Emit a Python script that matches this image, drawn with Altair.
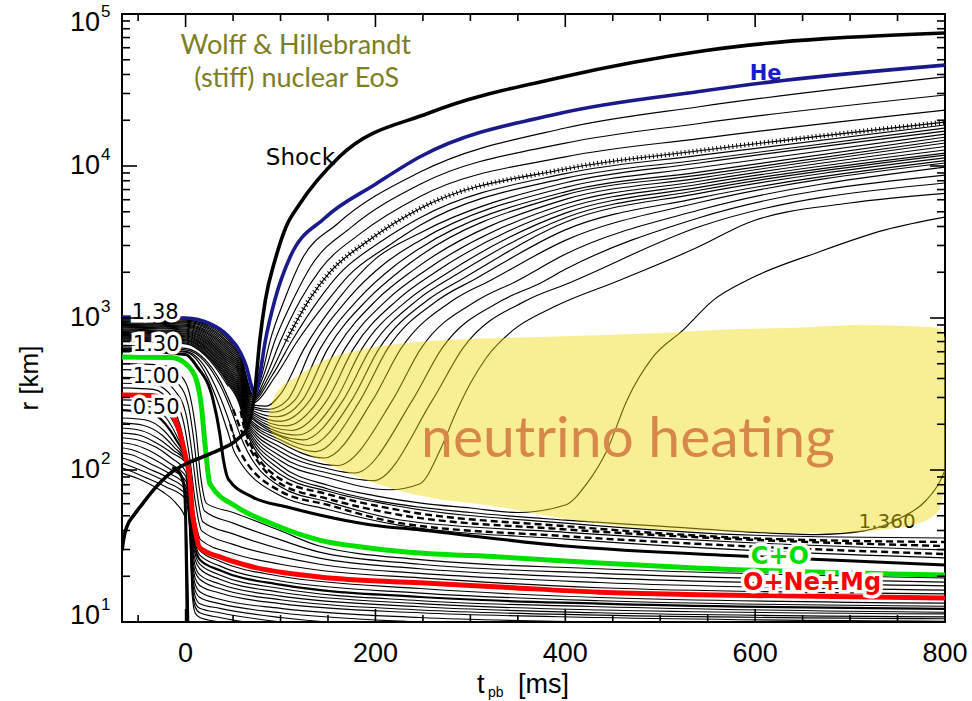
import altair as alt
import pandas as pd

W, H = 823, 608
X_DOMAIN = [-67, 800]
Y_DOMAIN = [10, 100000]

# ---------------- mass-shell trajectories: (t_pb [ms], r [km]) ----------------
SHOCK = [(-67, 29.5), (-65, 36), (-62, 42.2), (-55, 50), (-48, 57.1), (-34, 73.8), (-16, 95.5), (2, 111), (18, 122), (36, 136),
         (55, 160), (65, 190), (73, 330), (78, 700), (84, 1310), (95, 2500), (106, 4000), (120, 5600),
         (162, 11500), (257, 22400), (397, 38500), (548, 57500), (800, 75000)]

HE = [(-67, 1016), (0, 1000), (25, 923), (45, 759), (58, 589), (64, 479), (70, 347), (73, 316), (78, 417),
      (84, 708), (94, 1312), (110, 2510), (147, 4570), (200, 7590), (247, 11500), (397, 22400),
      (541, 30900), (613, 35500), (800, 46100)]

UP_LINES = [
    [(-67, 1000), (0, 982), (25, 900), (45, 733), (58, 566), (71.6, 309), (80, 417), (89, 708), (104, 1312), (122, 2400), (160, 4170), (247, 9120), (400, 17780), (541, 24550), (800, 38550)],
    [(-67, 986), (0, 968), (25, 881), (45, 713), (58, 547), (71.3, 302), (82, 417), (94, 708), (113, 1312), (132, 2190), (175, 3980), (247, 7590), (400, 14130), (541, 19050), (800, 29300)],
    [(-67, 973), (0, 953), (25, 863), (45, 692), (58, 530), (70.9, 295), (85, 417), (100, 708), (121, 1312), (142, 2090), (185, 3630), (247, 6310), (400, 11480), (541, 15140), (800, 23330)],
    [(-67, 959), (0, 940), (25, 845), (45, 673), (58, 513), (70.6, 288), (88, 417), (106, 708), (130, 1312), (152, 2000), (195, 3310), (247, 5250), (400, 9550), (541, 12590), (800, 19450)],
    [(-67, 946), (0, 927), (25, 828), (45, 653), (58, 495), (70.2, 282), (91, 417), (112, 708), (140, 1312), (162, 1950), (205, 3160), (247, 4570), (400, 8910), (541, 11750), (800, 18620)],
    [(-67, 933), (0, 912), (25, 809), (45, 634), (58, 479), (69.9, 275), (95, 417), (118, 708), (150, 1312), (172, 1910), (215, 3020), (247, 4070), (400, 8320), (541, 10960), (800, 17780)],
]
DOTTED_LINE = UP_LINES[3]

FAN_LINES = [
    [(-67, 920), (0, 897), (25, 792), (45, 617), (58, 463), (69.5, 269), (85, 263), (100, 316), (125, 631), (160, 1312), (200, 2450), (247, 3630), (400, 7760), (541, 10470), (800, 16980)],
    [(-67, 908), (0, 885), (25, 776), (45, 598), (58, 448), (69.2, 263), (88, 251), (107, 288), (133, 631), (170, 1312), (210, 2290), (247, 3240), (400, 7240), (541, 9770), (800, 16220)],
    [(-67, 895), (0, 873), (25, 760), (45, 582), (58, 434), (68.9, 257), (92, 240), (115, 288), (142, 631), (181, 1312), (220, 2200), (247, 2880), (400, 6760), (541, 9120), (800, 15490)],
    [(-67, 883), (0, 859), (25, 745), (45, 565), (58, 419), (68.5, 251), (96, 224), (123, 288), (150, 631), (191, 1312), (230, 2140), (400, 6460), (541, 8710), (800, 14790)],
    [(-67, 871), (0, 845), (25, 729), (45, 548), (58, 406), (68.2, 245), (100, 209), (131, 288), (159, 631), (201, 1312), (241, 2090), (400, 6030), (541, 8320), (800, 14160)],
    [(-67, 859), (0, 834), (25, 713), (45, 533), (58, 392), (67.8, 240), (106, 195), (140, 288), (168, 631), (212, 1312), (252, 2040), (400, 5620), (541, 7940), (800, 13430)],
    [(-67, 847), (0, 820), (25, 698), (45, 518), (58, 379), (67.5, 234), (112, 182), (149, 288), (177, 631), (223, 1312), (263, 2000), (400, 5250), (541, 7590), (800, 12740)],
    [(-67, 836), (0, 809), (25, 684), (45, 502), (58, 366), (67.1, 229), (118, 170), (158, 288), (186, 631), (234, 1312), (274, 1950), (400, 4900), (541, 7240), (800, 12160)],
    [(-67, 824), (0, 796), (25, 670), (45, 489), (58, 355), (66.8, 226), (124, 158), (166, 288), (195, 631), (244, 1312), (284, 1910), (400, 4570), (541, 6920), (800, 11800)],
    [(-67, 813), (0, 785), (25, 656), (45, 474), (58, 343), (66.4, 221), (100, 166), (130, 145), (175, 288), (204, 631), (255, 1312), (295, 1860), (400, 4270), (541, 6610), (800, 11300)],
    [(-67, 802), (0, 773), (25, 643), (45, 461), (58, 332), (66.1, 217), (100, 158), (137, 132), (184, 288), (213, 631), (266, 1312), (306, 1820), (400, 3800), (541, 6170), (800, 10840)],
    [(-67, 791), (0, 762), (25, 628), (45, 448), (58, 321), (65.8, 212), (100, 151), (146, 120), (197, 288), (227, 631), (282, 1312), (322, 1780), (400, 3240), (541, 5750), (800, 10470)],
    [(-67, 780), (0, 752), (25, 615), (45, 434), (58, 310), (65.4, 207), (100, 141), (160, 107), (218, 288), (248, 631), (308, 1312), (348, 1740), (400, 2630), (541, 5130), (800, 9840)],
    [(-67, 769), (0, 740), (25, 603), (45, 423), (58, 300), (65.1, 203), (100, 132), (150, 102), (178, 95.5), (239, 288), (270, 631), (334, 1312), (374, 1700), (400, 2090), (541, 4570), (800, 8710)],
    [(-67, 759), (0, 728), (25, 590), (45, 410), (58, 290), (64.7, 200), (100, 123), (150, 95.5), (198, 85.1), (260, 288), (292, 631), (360, 1312), (400, 1660), (541, 3980), (800, 7730)],
    [(-67, 748), (0, 718), (25, 578), (45, 398), (58, 281), (64.4, 195), (100, 115), (150, 89), (215, 74.1), (247, 81.3), (268, 135), (285, 240), (300, 372), (317, 550), (345, 832), (387, 1175), (458, 1780), (541, 2950), (592, 4220), (700, 5710), (800, 6610)],
    [(-67, 738), (0, 708), (25, 566), (45, 387), (58, 272), (64, 191), (100, 107), (150, 79.4), (200, 67.6), (250, 60.3), (300, 56.2), (350, 52.5), (400, 58.9), (423, 82), (444, 135), (465, 288), (492, 550), (524, 832), (556, 1312), (592, 1780), (665, 2690), (737, 3800), (800, 4610)],
    [(-67, 728), (0, 697), (25, 553), (45, 376), (58, 262), (63.7, 186), (100, 100), (150, 75), (200, 63.1), (300, 52.5), (400, 46.8), (500, 42.7), (600, 38.9), (664, 37.6), (715, 39.8), (755, 49), (780, 63), (795, 85), (800, 100)],
]

ACC_LINES = [
    [(-67, 718), (0, 685), (25, 542), (45, 366), (58, 254), (63.3, 182), (100, 93.3), (150, 72.4), (226, 57.5), (400, 44.7), (600, 37.2), (800, 35.7)],
    [(-67, 646), (0, 617), (20, 519), (37, 355), (50, 229), (58, 166), (100, 77.6), (150, 61.7), (226, 46.9), (400, 38.9), (600, 33.1), (800, 29.8)],
    [(-67, 624), (0, 596), (16, 490), (32, 302), (44, 182), (52, 129), (100, 67.6), (150, 55), (226, 43.2), (400, 35.1), (600, 29.5), (800, 26.4)],
]
# these shells are drawn dashed once they settle (t >= DASH_FROM)
ACC_DASHED = [
    [(-67, 708), (0, 676), (25, 531), (45, 355), (58, 245), (63, 178), (100, 87.1), (150, 69.2), (226, 54.3), (400, 42.7), (600, 35.5), (800, 33.6)],
    [(-67, 661), (0, 631), (20, 537), (37, 380), (50, 251), (60, 174), (100, 81.3), (150, 64.6), (226, 50.6), (400, 40.7), (600, 34.7), (800, 31.6)],
    [(-67, 631), (0, 603), (18, 501), (35, 316), (47, 200), (55, 141), (100, 72.4), (150, 58.9), (226, 44.7), (400, 36.7), (600, 31.3), (800, 28.0)],
]
DASH_FROM = 55
ACC_THICK = [(-67, 617), (0, 575), (12, 479), (29, 288), (36, 174), (40, 115), (45, 87.1), (71, 66.1), (107, 57.1),
             (141, 50.6), (194, 43.7), (247, 40.3), (400, 31.6), (600, 26.9), (800, 23.7)]

GREEN = [(-67, 553), (-15, 550), (0, 501), (11, 398), (17, 251), (20, 158), (25.7, 80.9), (54, 57.1), (89, 44.8),
         (141, 34.6), (194, 30.7), (247, 28.4), (331, 26.8), (436, 24.4), (542, 22.6), (800, 20.4)]
RED = [(-67, 311), (-35, 309), (-17, 248), (-8, 192), (0, 122), (4.5, 85.9), (7, 53), (9.5, 42.2), (15, 30.7),
       (36, 26.8), (71, 23), (141, 19.8), (247, 18.1), (331, 17), (436, 15.7), (542, 15.1), (800, 14.4)]

SHELL_LINES = [
    [(-67, 501), (-25, 490), (-5, 417), (5, 302), (11, 178), (16, 89.1), (22, 60.3), (50, 52.5), (100, 39.8), (141, 31.6), (247, 25.7), (436, 22.4), (800, 19.5)],
    [(-67, 457), (-28, 447), (-8, 372), (3, 263), (9, 151), (14, 79.4), (20, 53.7), (50, 44.7), (100, 34.7), (141, 28.8), (247, 24), (436, 20.9), (800, 18.3)],
    [(-67, 407), (-30, 398), (-11, 331), (1, 224), (7, 126), (12, 70.8), (18, 45.7), (50, 38), (100, 30.2), (141, 26.3), (247, 22.4), (436, 19.5), (800, 17.3)],
    [(-67, 372), (-32, 363), (-13, 295), (-1, 191), (5, 112), (10, 63.1), (17, 39.8), (50, 32.4), (100, 26.9), (141, 24), (247, 20.9), (436, 18.2), (800, 16.2)],
    [(-67, 347), (-34, 339), (-15, 269), (-4, 178), (3, 100), (8, 56.2), (16, 34.7), (50, 28.2), (100, 24), (141, 21.9), (247, 19.5), (436, 16.8), (800, 15.3)],
    [(-67, 289), (-35, 282), (-17, 229), (-8, 178), (0, 120), (4, 83.2), (7, 50.1), (10, 38), (15, 29.5), (36, 25.1), (100, 20), (247, 16.6), (436, 14.5), (800, 13.3)],
    [(-67, 268), (-38, 260), (-19, 214), (-9, 166), (0, 119), (4, 79.4), (7, 45.7), (10, 33.9), (15, 27.5), (36, 23.4), (100, 18.6), (247, 15.5), (436, 13.8), (800, 12.7)],
    [(-67, 220), (-43, 214), (-23, 182), (-11, 148), (0, 116), (4, 72.4), (7, 38), (10, 28.2), (15, 24), (36, 20.4), (100, 16.6), (247, 13.8), (436, 12.6), (800, 11.6)],
    [(-67, 204), (-45, 197), (-25, 170), (-12, 141), (0, 115), (4, 69.2), (7, 34.7), (10, 25.7), (15, 22.4), (36, 19.1), (100, 15.7), (247, 13.2), (436, 12), (800, 11.3)],
    [(-67, 189), (-47, 182), (-27, 158), (-13, 135), (0, 114), (4, 66.1), (7, 31.6), (10, 23.4), (15, 20.4), (36, 17.8), (100, 14.8), (247, 12.6), (436, 11.5), (800, 10.8)],
    [(-67, 175), (-49, 170), (-29, 148), (-14, 129), (0, 112), (4, 63.1), (7, 28.8), (10, 21.4), (15, 19.1), (36, 16.6), (100, 14), (247, 12), (436, 11.1), (800, 10.5)],
    [(-67, 163), (-51, 158), (-31, 141), (-15, 120), (0, 97.7), (4, 60.3), (7, 26.3), (10, 19.5), (15, 17.4), (36, 15.5), (100, 13.2), (247, 11.5), (436, 10.7), (800, 10.1)],
    [(-67, 151), (-53, 146), (-33, 129), (-16, 110), (0, 91.2), (4, 57.5), (7, 24), (10, 17.8), (15, 15.8), (36, 14.1), (100, 12.3), (247, 10.7), (436, 10), (800, 9.44)],
    [(-67, 140), (-55, 135), (-35, 119), (-17, 102), (0, 85.1), (4, 55), (7, 21.9), (10, 16.2), (15, 14.5), (36, 13.2), (100, 11.5), (247, 10), (436, 9.33), (800, 8.81)],
    [(-67, 129), (-57, 126), (-37, 110), (-18, 95.5), (0, 79.4), (4, 51.3), (7, 20), (10, 14.8), (15, 13.2), (36, 12.3), (100, 10.7), (247, 9.33), (436, 8.71), (800, 8.22)],
    [(-67, 120), (-59, 116), (-39, 102), (-19, 89.1), (0, 74.1), (4, 47.9), (7, 18.2), (10, 13.5), (15, 12.3), (36, 11.5), (100, 10), (247, 8.71), (436, 8.13), (800, 7.67)],
    [(-67, 111), (-60, 107), (-40, 95.5), (-20, 83.2), (0, 69.2), (4, 44.7), (7, 16.6), (10, 12.6), (15, 11.5), (36, 10.7), (100, 9.33), (247, 8.13)],
    [(-67, 103), (-61, 100), (-42, 89.1), (-21, 77.6), (0, 64.6), (4, 41.7), (7, 15.1), (10, 11.5), (15, 10.7), (36, 10), (100, 8.71)],
    [(-67, 95.5), (-45, 85.1), (-25, 72.4), (-10, 60.3), (0, 47.9), (2, 25.1), (4, 6.3)],
]
PNS_MID = [
    [(-67, 248), (-40, 240), (-21, 200), (-10, 158), (0, 117), (4, 75.9), (7, 41.7), (10, 30.9), (15, 25.7), (36, 21.9), (100, 17.6), (247, 14.6), (436, 13.2), (800, 12.2)],
]
CORE_THICK = [(-14, 104), (-6, 95), (-1.5, 78), (0, 50), (1, 20), (2, 6.3)]

# ---------------- neutrino-heating region (outline) ----------------
YELLOW_T = [86, 94, 120, 147, 184, 232, 331, 407, 507, 557, 657, 706, 732, 773, 794, 800]
YELLOW_TOP = [205, 311, 422, 530, 616, 685, 738, 762, 800, 834, 870, 900, 895, 880, 860, 740]
YELLOW_BOT = [205, 165, 135, 112, 89, 71, 57, 47, 40.3, 39.5, 38.5, 39, 40.3, 44.8, 54.6, 90]

# ---------------- ticks ----------------
X_MAJOR = [0, 200, 400, 600, 800]
X_MAJOR_LABELS = ["0", "200", "400", "600", "800"]
X_MINOR = [-50, 50, 100, 150, 250, 300, 350, 450, 500, 550, 650, 700, 750]
Y_MAJOR = [10, 100, 1000, 10000, 100000]
Y_EXPONENTS = ["1", "2", "3", "4", "5"]
Y_LABEL_SHIFT = [-6, 0, 0, 0, 9]
Y_MINOR = [m * d for d in [10, 100, 1000, 10000] for m in range(2, 10)]

# ---------------- annotations (t, r, text) ----------------
OLIVE_TEXT = [(116, 61700, "Wolff & Hillebrandt"), (117, 37300, "(stiff) nuclear EoS")]
SHOCK_TEXT = [(121, 11300, "Shock")]
HE_TEXT = [(611, 40500, "He")]
HEATING_TEXT = [(466, 157, "neutrino heating")]
MASS_CUT_TEXT = [(739, 45.5, "1.360")]
CO_TEXT = [(626, 26.8, "C+O")]
ONEMG_TEXT = [(660, 18.1, "O+Ne+Mg")]
MASS_TEXT = [(-32, 1080, "1.38"), (-31, 664, "1.30"), (-31, 409, "1.00"), (-31, 256, "0.50")]

# ---------------- build tables ----------------
dash_pre = [[p for p in pts if p[0] <= DASH_FROM] for pts in ACC_DASHED]
dash_post = [[p for p in pts if p[0] >= DASH_FROM - 8] for pts in ACC_DASHED]

groups = [
    ("thin", UP_LINES + FAN_LINES + ACC_LINES + SHELL_LINES + dash_pre),
    ("dash", dash_post),
    ("mid", PNS_MID),
    ("thick", [ACC_THICK, CORE_THICK]),
    ("dots", [[p for p in DOTTED_LINE if p[0] >= 100]]),
    ("green", [GREEN]),
    ("red", [RED]),
    ("he", [HE]),
    ("shock", [SHOCK]),
]
rows = []
for style, lines in groups:
    for k, pts in enumerate(lines):
        for i, (t, r) in enumerate(pts):
            rows.append({"line": f"{style}{k}", "style": style, "i": i, "t": t, "r": r})
lines_df = pd.DataFrame(rows)

xs = alt.Scale(domain=X_DOMAIN, nice=False, zero=False)
ys = alt.Scale(type="log", domain=Y_DOMAIN, nice=False)


def line_layer(style, color, width, dash=None):
    kw = dict(clip=True, interpolate="monotone", color=color, strokeWidth=width, strokeJoin="round")
    if dash:
        kw["strokeDash"] = dash
    return alt.Chart(lines_df).transform_filter(alt.datum.style == style).mark_line(**kw).encode(
        x=alt.X("t:Q", scale=xs, axis=None),
        y=alt.Y("r:Q", scale=ys, axis=None),
        detail="line:N",
        order="i:Q",
    )


def text_df(items):
    return pd.DataFrame([{"t": t, "r": r, "txt": s} for t, r, s in items])


def text_layer(items, halo=False, **kw):
    base = alt.Chart(text_df(items)).encode(
        x=alt.X("t:Q", scale=xs, axis=None), y=alt.Y("r:Q", scale=ys, axis=None), text="txt:N")
    out = []
    if halo:
        hk = dict(kw)
        hk.update(color="white", stroke="white", strokeWidth=7)
        out.append(base.mark_text(**hk))
    out.append(base.mark_text(**kw))
    return out


layers = [
    line_layer("thin", "black", 1.15),
    line_layer("dash", "black", 2.4, [7, 4]),
    line_layer("mid", "black", 2.2),
    line_layer("thick", "black", 3.0),
    line_layer("dots", "black", 5, [1, 3]),
    line_layer("green", "#00e000", 5),
    line_layer("red", "#ff0000", 5),
    line_layer("he", "#1a1a8c", 3.6),
    line_layer("shock", "black", 3.6),
]
layers += text_layer(MASS_CUT_TEXT, font="DejaVu Sans", fontSize=20, color="black")

yellow_df = pd.DataFrame({"t": YELLOW_T, "top": YELLOW_TOP, "bot": YELLOW_BOT})
layers.append(
    alt.Chart(yellow_df).mark_area(clip=True, interpolate="monotone", color="#f0dc14", opacity=0.45).encode(
        x=alt.X("t:Q", scale=xs, axis=None), y=alt.Y("top:Q", scale=ys, axis=None), y2="bot:Q")
)

layers += text_layer(HEATING_TEXT, font="Lato", fontSize=57, color="#d8874a")
layers += text_layer(OLIVE_TEXT, font="Lato", fontSize=27, color="#7d7d22")
layers += text_layer(SHOCK_TEXT, font="DejaVu Sans", fontSize=23, color="black")
layers += text_layer(HE_TEXT, font="DejaVu Sans", fontSize=21, fontWeight="bold", color="#1a1acc")
layers += text_layer(CO_TEXT, halo=True, font="DejaVu Sans", fontSize=24, fontWeight="bold", color="#00e000")
layers += text_layer(ONEMG_TEXT, halo=True, font="DejaVu Sans", fontSize=24, fontWeight="bold", color="#ff0000")
layers += text_layer(MASS_TEXT, halo=True, font="DejaVu Sans", fontSize=21, color="black")

# tick marks (inward, all four sides)
xmaj = pd.DataFrame({"v": X_MAJOR, "lab": X_MAJOR_LABELS})
xmin = pd.DataFrame({"v": X_MINOR})
ymaj = pd.DataFrame({"v": Y_MAJOR, "e": Y_EXPONENTS, "s": Y_LABEL_SHIFT})
ymin = pd.DataFrame({"v": Y_MINOR})

for df_, ln in [(xmaj, 13), (xmin, 7)]:
    for y0, y1 in [(H, H - ln), (0, ln)]:
        layers.append(alt.Chart(df_).mark_rule(color="black", strokeWidth=1.6).encode(
            x=alt.X("v:Q", scale=xs, axis=None), y=alt.value(y0), y2=alt.value(y1)))
for df_, ln in [(ymaj, 15), (ymin, 8)]:
    for x0, x1 in [(0, ln), (W, W - ln)]:
        layers.append(alt.Chart(df_).mark_rule(color="black", strokeWidth=1.6).encode(
            y=alt.Y("v:Q", scale=ys, axis=None), x=alt.value(x0), x2=alt.value(x1)))

# tick labels
layers.append(alt.Chart(xmaj).mark_text(font="Liberation Sans", fontSize=27, baseline="middle").encode(
    x=alt.X("v:Q", scale=xs, axis=None), y=alt.value(H + 32), text="lab:N"))
for shift in sorted(set(Y_LABEL_SHIFT)):
    sub = ymaj[ymaj["s"] == shift]
    layers.append(alt.Chart(sub).mark_text(font="Liberation Sans", fontSize=27, baseline="middle", align="right",
                                           dy=shift).encode(
        y=alt.Y("v:Q", scale=ys, axis=None), x=alt.value(-22), text=alt.value("10")))
    layers.append(alt.Chart(sub).mark_text(font="Liberation Sans", fontSize=17, baseline="middle", align="left",
                                           dy=shift - 11).encode(
        y=alt.Y("v:Q", scale=ys, axis=None), x=alt.value(-21), text="e:N"))

# axis titles
one = pd.DataFrame({"a": [0]})
layers.append(alt.Chart(one).mark_text(font="Liberation Sans", fontSize=26, angle=270, baseline="middle").encode(
    x=alt.value(-92), y=alt.value(364), text=alt.value("r [km]")))
layers.append(alt.Chart(one).mark_text(font="Liberation Sans", fontSize=27, align="left", baseline="middle").encode(
    x=alt.value(355), y=alt.value(671), text=alt.value("t")))
layers.append(alt.Chart(one).mark_text(font="Liberation Sans", fontSize=14, align="left", baseline="middle").encode(
    x=alt.value(366), y=alt.value(679), text=alt.value("pb")))
layers.append(alt.Chart(one).mark_text(font="Liberation Sans", fontSize=27, align="left", baseline="middle").encode(
    x=alt.value(396), y=alt.value(671), text=alt.value("[ms]")))

chart = alt.layer(*layers).properties(
    width=W, height=H,
    autosize=alt.AutoSizeParams(type="none"),
    padding={"left": 122, "top": 14, "right": 27, "bottom": 79},
    background="white",
).configure_view(stroke="black", strokeWidth=2)

chart.save("out.html", embed_options={"renderer": "svg", "actions": False})
